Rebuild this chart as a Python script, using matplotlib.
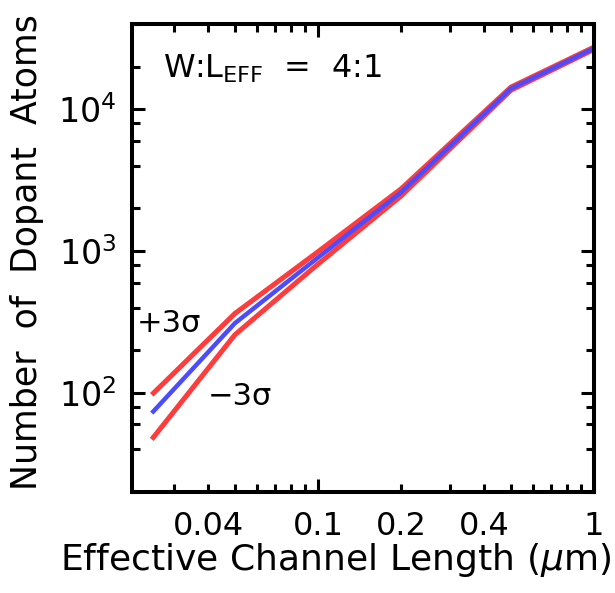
import matplotlib
matplotlib.use("Agg")
import matplotlib.pyplot as plt
from matplotlib.ticker import LogLocator, NullFormatter

# channel length (um) and number of dopant atoms
length_um = [0.025, 0.05, 0.1, 0.2, 0.5, 1.0]
atoms_mean = [72, 310, 900, 2600, 14000, 27000]
atoms_plus3 = [97, 363, 990, 2750, 14350, 27500]
atoms_minus3 = [47, 257, 810, 2450, 13650, 26500]

xlabel_ticks = [0.04, 0.1, 0.2, 0.4, 1]
xlabel_text = ["0.04", "0.1", "0.2", "0.4", "1"]

plt.rcParams['font.family'] = ['DejaVu Sans']
plt.rcParams['mathtext.fontset'] = 'dejavusans'

red = '#ff3b3b'
blue = '#4b4bff'

fig = plt.figure(figsize=(6.15, 5.93), dpi=100)
ax = fig.add_axes([0.2146, 0.1703, 0.7513, 0.7892])

ax.plot(length_um, atoms_plus3, color=red, lw=3.6, solid_capstyle='butt')
ax.plot(length_um, atoms_minus3, color=red, lw=3.6, solid_capstyle='butt')
ax.plot(length_um, atoms_mean, color=blue, lw=3.2, solid_capstyle='butt')

ax.set_xscale('log')
ax.set_yscale('log')
ax.set_xlim(0.0212, 1.0)
ax.set_ylim(20, 40000)

# x: long ticks at decades, short ones at 2..9; labels on a few of them
ax.xaxis.set_major_locator(LogLocator(base=10))
ax.xaxis.set_minor_locator(LogLocator(base=10, subs=range(2, 10)))
ax.xaxis.set_major_formatter(NullFormatter())
ax.xaxis.set_minor_formatter(NullFormatter())
ax.yaxis.set_major_locator(LogLocator(base=10))
ax.yaxis.set_minor_locator(LogLocator(base=10, subs=(2, 4, 6, 8)))
ax.yaxis.set_minor_formatter(NullFormatter())

for s in ax.spines.values():
    s.set_linewidth(2.9)

ax.tick_params(which='both', direction='in', top=True, right=True, width=2.2)
ax.tick_params(which='major', length=9.4, labelsize=24, pad=11)
ax.tick_params(which='minor', length=5.8)

for x, t in zip(xlabel_ticks, xlabel_text):
    ax.text(x, -0.04, t, transform=ax.get_xaxis_transform(), ha='center', va='top', fontsize=23)

ax.set_xlabel(r'Effective Channel Length ($\mu$m)', fontsize=26)
ax.xaxis.set_label_coords(0.4416, -0.104)
ax.set_ylabel('Number  of  Dopant  Atoms', fontsize=25)
ax.yaxis.set_label_coords(-0.19, 0.513)

ax.text(0.068, 0.905, r'W:L$_{\mathrm{EFF}}$  =  4:1', transform=ax.transAxes, fontsize=23, va='center')
ax.text(0.01, 0.36, '+3σ', transform=ax.transAxes, fontsize=22, va='center')
ax.text(0.165, 0.205, '−3σ', transform=ax.transAxes, fontsize=22, va='center')

fig.savefig('out.png', dpi=100)
